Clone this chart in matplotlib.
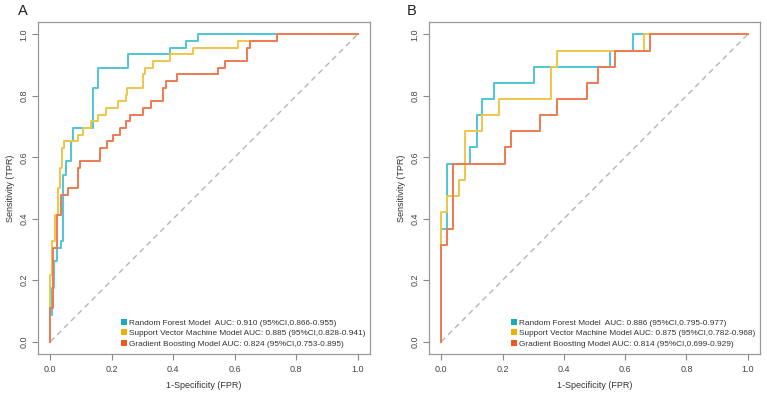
import matplotlib
matplotlib.use("Agg")
import matplotlib.pyplot as plt
from matplotlib.patches import Patch

plt.rcParams['font.family'] = ['Liberation Sans', 'DejaVu Sans']

# ROC step points (FPR, TPR)
# Panel A
rf_a_fpr = [0, 0, 0.005, 0.005, 0.011, 0.011, 0.022, 0.022, 0.034, 0.034, 0.041, 0.041, 0.051, 0.051,
            0.066, 0.066, 0.074, 0.074, 0.139, 0.139, 0.154, 0.154, 0.252, 0.252, 0.390, 0.390,
            0.441, 0.441, 0.482, 0.482, 1.0]
rf_a_tpr = [0, 0.087, 0.087, 0.174, 0.174, 0.261, 0.261, 0.304, 0.304, 0.326, 0.326, 0.543, 0.543, 0.587,
            0.587, 0.652, 0.652, 0.696, 0.696, 0.826, 0.826, 0.891, 0.891, 0.935, 0.935, 0.957,
            0.957, 0.978, 0.978, 1.0, 1.0]

svm_a_fpr = [0, 0, 0.005, 0.005, 0.016, 0.016, 0.024, 0.024, 0.032, 0.032, 0.038, 0.038, 0.045, 0.045,
             0.089, 0.089, 0.106, 0.106, 0.132, 0.132, 0.154, 0.154, 0.180, 0.180, 0.221, 0.221,
             0.245, 0.245, 0.250, 0.250, 0.301, 0.301, 0.308, 0.308, 0.333, 0.333, 0.390, 0.390,
             0.463, 0.463, 0.611, 0.611, 0.739, 0.739, 1.0]
svm_a_tpr = [0, 0.217, 0.217, 0.326, 0.326, 0.413, 0.413, 0.500, 0.500, 0.565, 0.565, 0.630, 0.630, 0.652,
             0.652, 0.674, 0.674, 0.696, 0.696, 0.717, 0.717, 0.739, 0.739, 0.761, 0.761, 0.783,
             0.783, 0.804, 0.804, 0.826, 0.826, 0.870, 0.870, 0.891, 0.891, 0.913, 0.913, 0.935,
             0.935, 0.957, 0.957, 0.978, 0.978, 1.0, 1.0]

gb_a_fpr = [0, 0, 0.008, 0.008, 0.022, 0.022, 0.036, 0.036, 0.057, 0.057, 0.090, 0.090, 0.097, 0.097,
            0.162, 0.162, 0.186, 0.186, 0.203, 0.203, 0.227, 0.227, 0.245, 0.245, 0.260, 0.260,
            0.301, 0.301, 0.327, 0.327, 0.365, 0.365, 0.376, 0.376, 0.413, 0.413, 0.544, 0.544,
            0.569, 0.569, 0.641, 0.641, 0.649, 0.649, 0.739, 0.739, 1.0]
gb_a_tpr = [0, 0.109, 0.109, 0.304, 0.304, 0.413, 0.413, 0.478, 0.478, 0.500, 0.500, 0.565, 0.565, 0.587,
            0.587, 0.630, 0.630, 0.652, 0.652, 0.674, 0.674, 0.696, 0.696, 0.717, 0.717, 0.739,
            0.739, 0.761, 0.761, 0.783, 0.783, 0.826, 0.826, 0.848, 0.848, 0.870, 0.870, 0.891,
            0.891, 0.913, 0.913, 0.957, 0.957, 0.978, 0.978, 1.0, 1.0]

# Panel B
rf_b_fpr = [0, 0, 0.019, 0.019, 0.095, 0.095, 0.115, 0.115, 0.133, 0.133, 0.171, 0.171, 0.304, 0.304,
            0.549, 0.549, 0.624, 0.624, 1.0]
rf_b_tpr = [0, 0.368, 0.368, 0.579, 0.579, 0.632, 0.632, 0.737, 0.737, 0.789, 0.789, 0.842, 0.842, 0.895,
            0.895, 0.947, 0.947, 1.0, 1.0]

svm_b_fpr = [0, 0, 0.019, 0.019, 0.057, 0.057, 0.077, 0.077, 0.133, 0.133, 0.190, 0.190, 0.359, 0.359,
             0.377, 0.377, 0.662, 0.662, 1.0]
svm_b_tpr = [0, 0.421, 0.421, 0.474, 0.474, 0.526, 0.526, 0.684, 0.684, 0.737, 0.737, 0.789, 0.789, 0.895,
             0.895, 0.947, 0.947, 1.0, 1.0]

gb_b_fpr = [0, 0, 0.019, 0.019, 0.038, 0.038, 0.209, 0.209, 0.227, 0.227, 0.323, 0.323, 0.378, 0.378,
            0.474, 0.474, 0.511, 0.511, 0.568, 0.568, 0.681, 0.681, 1.0]
gb_b_tpr = [0, 0.316, 0.316, 0.368, 0.368, 0.579, 0.579, 0.632, 0.632, 0.684, 0.684, 0.737, 0.737, 0.789,
            0.789, 0.842, 0.842, 0.895, 0.895, 0.947, 0.947, 1.0, 1.0]

labels_a = ["Random Forest Model  AUC: 0.910 (95%CI,0.866-0.955)",
            "Support Vector Machine Model AUC: 0.885 (95%CI,0.828-0.941)",
            "Gradient Boosting Model AUC: 0.824 (95%CI,0.753-0.895)"]
labels_b = ["Random Forest Model  AUC: 0.886 (95%CI,0.795-0.977)",
            "Support Vector Machine Model AUC: 0.875 (95%CI,0.782-0.968)",
            "Gradient Boosting Model AUC: 0.814 (95%CI,0.699-0.929)"]

line_cols = ['#4fc6d6', '#eec64a', '#ee7a52']
box_cols = ['#19acc0', '#e8b400', '#f2571c']
ticks = [0.0, 0.2, 0.4, 0.6, 0.8, 1.0]

fig = plt.figure(figsize=(7.67, 3.94), dpi=100)
ax_a = fig.add_axes([38 / 767, 40 / 394, 332 / 767, 332 / 394])
ax_b = fig.add_axes([429 / 767, 40 / 394, 331 / 767, 332 / 394])

panels = [
    (ax_a, "A", 18, [(rf_a_fpr, rf_a_tpr), (svm_a_fpr, svm_a_tpr), (gb_a_fpr, gb_a_tpr)], labels_a),
    (ax_b, "B", 407, [(rf_b_fpr, rf_b_tpr), (svm_b_fpr, svm_b_tpr), (gb_b_fpr, gb_b_tpr)], labels_b),
]

for ax, tag, tag_x, curves, labels in panels:
    ax.plot([0, 1], [0, 1], color='#b5b5b5', lw=1.0, ls=(0, (4, 3)))
    for (x, y), c in zip(curves, line_cols):
        ax.plot(x, y, color=c, lw=1.4)
    ax.set_xlim(-0.04, 1.04)
    ax.set_ylim(-0.04, 1.04)
    ax.set_xticks(ticks)
    ax.set_yticks(ticks)
    ax.set_xticklabels([f"{t:.1f}" for t in ticks])
    ax.set_yticklabels([f"{t:.1f}" for t in ticks], rotation=90, va='center')
    ax.tick_params(direction='out', length=4, width=0.8, color='#888888',
                   labelcolor='#444444', labelsize=6.5)
    ax.tick_params(axis='y', pad=3)
    ax.tick_params(axis='x', pad=4)
    for s in ax.spines.values():
        s.set_color('#999999')
        s.set_linewidth(0.9)
    ax.set_xlabel("1-Specificity (FPR)", fontsize=6.5, color='#333333', labelpad=5)
    ax.set_ylabel("Sensitivity (TPR)", fontsize=6.5, color='#333333', labelpad=3)
    handles = [Patch(facecolor=c, edgecolor='none') for c in box_cols]
    ax.legend(handles, labels, loc='lower right', bbox_to_anchor=(1.0, 0.004),
              frameon=False, fontsize=5.95, handlelength=0.75, handleheight=0.75,
              handletextpad=0.2, labelspacing=0.3, borderaxespad=0.2,
              labelcolor='#333333')
    fig.text(tag_x / 767, 1 - 4 / 394, tag, fontsize=10.5, color='#222222',
             va='top', ha='left')

fig.savefig("out.png", dpi=100)
